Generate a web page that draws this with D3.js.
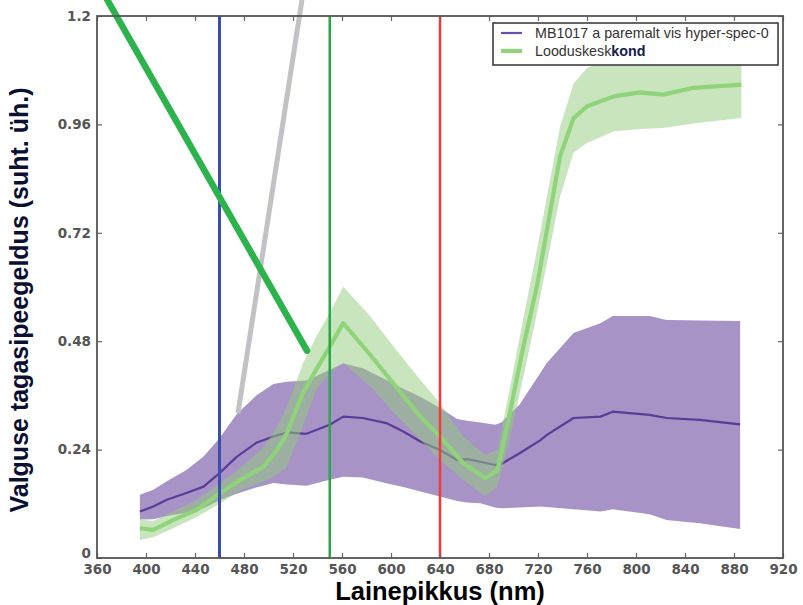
<!DOCTYPE html>
<html><head><meta charset="utf-8">
<script src="https://cdn.jsdelivr.net/npm/d3@7/dist/d3.min.js"></script>
<style>body{margin:0;background:#fff}svg{display:block}</style>
</head><body>
<svg id="chart" width="803" height="605"></svg>
<script>
// ---- data ----
const xTicks = [360,400,440,480,520,560,600,640,680,720,760,800,840,880,920];
const yTicks = [0,0.24,0.48,0.72,0.96,1.2];
const yTickLabels = ["0","0.24","0.48","0.72","0.96","1.2"];

const purpleWl   = [395,406,417,433,447,460,474,490,504,515,531,550,561,577,597,610,624,640,654,662,673,685,690,705,722,727,749,771,781,811,825,852,885];
const purpleMean = [0.103,0.114,0.129,0.144,0.158,0.188,0.224,0.255,0.269,0.278,0.275,0.295,0.313,0.310,0.298,0.280,0.258,0.239,0.217,0.219,0.213,0.206,0.208,0.232,0.261,0.272,0.310,0.313,0.324,0.317,0.310,0.306,0.296];
const purpleLo   = [0.085,0.086,0.093,0.100,0.110,0.128,0.142,0.156,0.166,0.163,0.160,0.173,0.180,0.178,0.165,0.157,0.147,0.136,0.126,0.123,0.121,0.112,0.110,0.112,0.114,0.113,0.108,0.103,0.108,0.097,0.084,0.077,0.064];
const purpleHi   = [0.140,0.151,0.170,0.195,0.225,0.265,0.318,0.360,0.385,0.390,0.393,0.417,0.431,0.420,0.393,0.375,0.357,0.332,0.308,0.304,0.300,0.295,0.300,0.340,0.410,0.431,0.498,0.520,0.536,0.536,0.527,0.526,0.525];

const greenWl   = [395,406,422,441,460,477,496,507,515,528,539,550,561,583,602,624,640,659,677,687,697,708,719,738,749,760,782,803,822,847,886];
const greenMean = [0.066,0.062,0.084,0.106,0.143,0.173,0.202,0.239,0.276,0.365,0.417,0.468,0.520,0.450,0.386,0.313,0.269,0.210,0.177,0.195,0.321,0.468,0.600,0.889,0.974,1.000,1.022,1.031,1.026,1.041,1.048];
const greenLo   = [0.040,0.046,0.066,0.090,0.120,0.150,0.168,0.185,0.202,0.291,0.372,0.409,0.431,0.380,0.322,0.261,0.217,0.173,0.136,0.158,0.265,0.400,0.540,0.800,0.897,0.919,0.945,0.950,0.952,0.962,0.974];
const greenHi   = [0.085,0.082,0.103,0.128,0.165,0.200,0.245,0.290,0.335,0.430,0.490,0.543,0.601,0.535,0.468,0.394,0.343,0.269,0.228,0.240,0.375,0.530,0.680,0.955,1.050,1.085,1.110,1.120,1.120,1.125,1.130];

const markerWl = [460,550,640];
const markerColors = ["#3b4db0","#25a845","#f23a3c"];

const decoGreen = [[363.3,1.26],[531.4,0.459]];
const decoGray  = [[528.7,1.26],[475.1,0.321]];

const legendLabels = ["MB1017 a paremalt vis hyper-spec-0","Looduskesk","kond"];

// ---- drawing ----
const svg = d3.select("#chart");
const x = d3.scaleLinear().domain([360,920]).range([97,783]);
const y = d3.scaleLinear().domain([0,1.2]).range([558,16]);

const pData = purpleWl.map((w,i)=>({w,m:purpleMean[i],lo:purpleLo[i],hi:purpleHi[i]}));
const gData = greenWl.map((w,i)=>({w,m:greenMean[i],lo:greenLo[i],hi:greenHi[i]}));

const area = d3.area().x(d=>x(d.w)).y0(d=>y(d.lo)).y1(d=>y(d.hi));
const line = d3.line().x(d=>x(d.w)).y(d=>y(d.m));

svg.append("path").attr("d",area(pData)).attr("fill","#a793c6");
svg.append("path").attr("d",line(pData)).attr("fill","none").attr("stroke","#5a3c98").attr("stroke-width",2.2).attr("stroke-linejoin","round");
svg.append("path").attr("d",area(gData)).attr("fill","#93cb7b").attr("fill-opacity",0.5);
svg.append("path").attr("d",line(gData)).attr("fill","none").attr("stroke","#8fd47b").attr("stroke-width",4.2).attr("stroke-linejoin","round");

// vertical marker lines
markerWl.forEach((w,i)=>{
  svg.append("line").attr("x1",x(w)).attr("x2",x(w)).attr("y1",y(1.2)).attr("y2",y(0))
    .attr("stroke",markerColors[i]).attr("stroke-width",i===0?3:2.5);
});

// decorative annotation lines
const dl = d3.line().x(d=>x(d[0])).y(d=>y(d[1]));
svg.append("path").attr("d",dl(decoGray)).attr("stroke","#c2c2c6").attr("stroke-width",5).attr("fill","none");
svg.append("path").attr("d",dl(decoGreen)).attr("stroke","#2cb34c").attr("stroke-width",6.5).attr("fill","none").attr("stroke-linecap","round");

// axes
const tickCol = "#555";
const gx = svg.append("g").attr("transform","translate(0,558)")
  .call(d3.axisBottom(x).tickValues(xTicks).tickSize(-5).tickPadding(6).tickFormat(d3.format("d")));
const gxt = svg.append("g").attr("transform","translate(0,16)")
  .call(d3.axisTop(x).tickValues(xTicks).tickSize(-5).tickFormat(""));
const gy = svg.append("g").attr("transform","translate(97,0)")
  .call(d3.axisLeft(y).tickValues(yTicks).tickSize(-5).tickPadding(6).tickFormat((d,i)=>yTickLabels[i]));
const gyr = svg.append("g").attr("transform","translate(783,0)")
  .call(d3.axisRight(y).tickValues(yTicks).tickSize(-5).tickFormat(""));
[gx,gxt,gy,gyr].forEach(g=>{
  g.select(".domain").remove();
  g.selectAll(".tick line").attr("stroke","#666").attr("stroke-width",1.2);
  g.selectAll("text").attr("fill",tickCol).attr("font-family","DejaVu Sans").attr("font-size",13.5).attr("font-weight","bold");
});
// nudge the "0" label up so it does not collide with "360"
gy.selectAll(".tick").filter(d=>d===0).select("text").attr("dy","-0.05em");
svg.append("rect").attr("x",97).attr("y",16).attr("width",686).attr("height",542)
  .attr("fill","none").attr("stroke","#555").attr("stroke-width",1.8);

// axis labels
svg.append("text").attr("x",440).attr("y",600).attr("text-anchor","middle")
  .attr("font-family","Liberation Sans, Arial").attr("font-weight","bold").attr("font-size",25.5)
  .attr("fill","#000").text("Lainepikkus (nm)");
svg.append("text").attr("transform","translate(28,300) rotate(-90)").attr("text-anchor","middle")
  .attr("font-family","Liberation Sans, Arial").attr("font-weight","bold").attr("font-size",25)
  .attr("fill","#0b1030").text("Valguse tagasipeegeldus (suht. üh.)");

// legend
const lg = svg.append("g");
lg.append("rect").attr("x",493).attr("y",23).attr("width",285).attr("height",42)
  .attr("fill","#fff").attr("stroke","#333").attr("stroke-width",1.5);
lg.append("line").attr("x1",501).attr("x2",522).attr("y1",33).attr("y2",33).attr("stroke","#6b4fae").attr("stroke-width",2.2);
lg.append("line").attr("x1",501).attr("x2",522).attr("y1",51).attr("y2",51).attr("stroke","#8fd47b").attr("stroke-width",4.2);
lg.append("text").attr("x",535).attr("y",37.5).attr("font-family","Liberation Sans, Arial").attr("font-size",14.3)
  .attr("fill","#333").text(legendLabels[0]);
const t2 = lg.append("text").attr("x",535).attr("y",55.5).attr("font-family","Liberation Sans, Arial").attr("font-size",14.3).attr("fill","#333");
t2.append("tspan").text(legendLabels[1]);
t2.append("tspan").attr("font-weight","bold").attr("fill","#14204a").text(legendLabels[2]);
</script>
</body></html>
